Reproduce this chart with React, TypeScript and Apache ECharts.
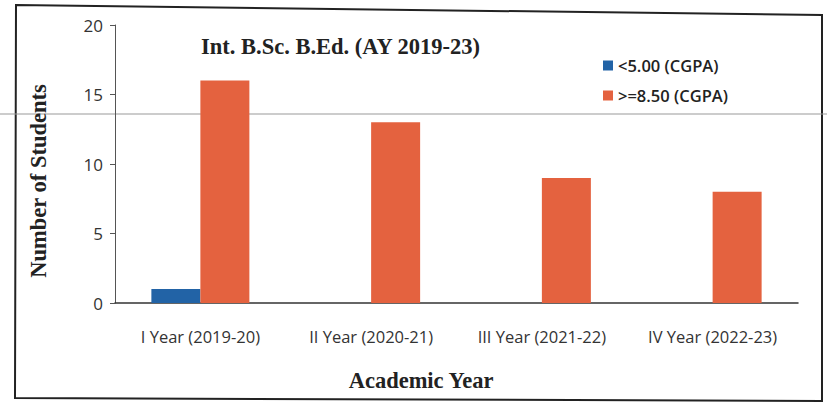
import React, { useEffect, useRef } from "react";
import * as echarts from "echarts";

const categories = ["I Year (2019-20)", "II Year (2020-21)", "III Year (2021-22)", "IV Year (2022-23)"];
const seriesNames = ["<5.00 (CGPA)", ">=8.50 (CGPA)"];
const below5 = [1, null, null, null];
const above85 = [16, 13, 9, 8];
const yTicks = { min: 0, max: 20, interval: 5 };
const titleText = "Int. B.Sc. B.Ed. (AY 2019-23)";
const xAxisName = "Academic Year";
const yAxisName = "Number of Students";

export default function App() {
  const ref = useRef<HTMLDivElement>(null);
  useEffect(() => {
    if (!ref.current) return;
    const chart = echarts.init(ref.current, null, { renderer: "svg" });
    const serifBold = { fontFamily: "Liberation Serif", fontWeight: "bold", fill: "#222" };
    chart.setOption({
      animation: false,
      backgroundColor: "#ffffff",
      title: {
        text: titleText,
        left: 196,
        top: 30,
        textStyle: { fontFamily: "Liberation Serif", fontWeight: "bold", fontSize: 22.5, color: "#222" },
      },
      legend: {
        orient: "vertical",
        left: 598,
        top: 52,
        itemWidth: 10,
        itemHeight: 10,
        itemGap: 13,
        icon: "rect",
        textStyle: { fontFamily: "Open Sans", fontWeight: 600, fontSize: 16.5, color: "#222" },
        data: seriesNames,
      },
      grid: { left: 115, right: 29, top: 25, bottom: 106 },
      xAxis: {
        type: "category",
        data: categories,
        axisLine: { lineStyle: { color: "#333", width: 1.5 } },
        axisTick: { show: false },
        axisLabel: { interval: 0, hideOverlap: false, fontFamily: "Open Sans", fontSize: 16.5, color: "#333", margin: 25 },
      },
      yAxis: {
        type: "value",
        min: yTicks.min,
        max: yTicks.max,
        interval: yTicks.interval,
        axisLine: { show: true, lineStyle: { color: "#555", width: 1 } },
        axisTick: { show: true, length: 5, lineStyle: { color: "#555" } },
        splitLine: { show: false },
        axisLabel: { fontFamily: "Open Sans", fontSize: 17, color: "#333", margin: 12 },
      },
      series: [
        {
          name: seriesNames[0],
          type: "bar",
          data: below5,
          barWidth: 49,
          barGap: "0%",
          itemStyle: { color: "#2263a6" },
        },
        {
          name: seriesNames[1],
          type: "bar",
          data: above85,
          barWidth: 49,
          itemStyle: { color: "#e4623f" },
        },
      ],
      graphic: [
        {
          type: "polygon",
          shape: { points: [[16, 5], [822, 15], [822, 401], [15, 398]] },
          style: { fill: "none", stroke: "#222", lineWidth: 2 },
          silent: true,
        },
        {
          type: "line",
          shape: { x1: 0, y1: 114, x2: 827, y2: 114 },
          style: { stroke: "#999", lineWidth: 1 },
          silent: true,
        },
        {
          type: "text",
          x: 421,
          y: 380,
          style: { ...serifBold, text: xAxisName, fontSize: 22.5, align: "center", verticalAlign: "middle" },
          silent: true,
        },
        {
          type: "text",
          x: 38,
          y: 181,
          rotation: Math.PI / 2,
          style: { ...serifBold, text: yAxisName, fontSize: 22.5, align: "center", verticalAlign: "middle" },
          silent: true,
        },
      ],
    });
    return () => chart.dispose();
  }, []);
  return (
    <div
      ref={ref}
      style={{ position: "fixed", left: 0, top: 0, width: 827, height: 409, background: "#fff" }}
    />
  );
}
